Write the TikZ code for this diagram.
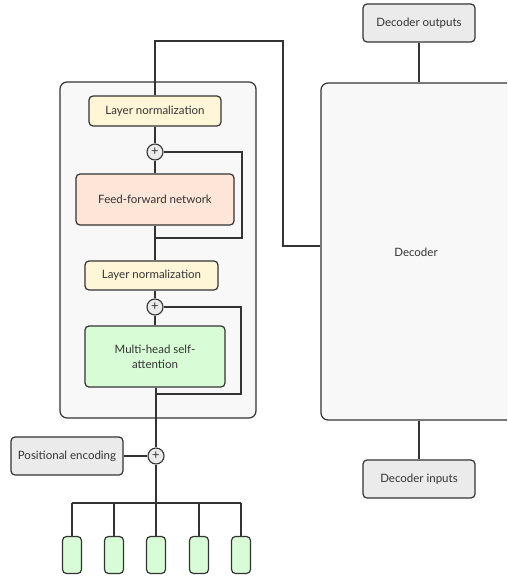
\documentclass[tikz,border=0pt]{standalone}
\usepackage{fontspec}
\setmainfont{Lato}
\usetikzlibrary{positioning}
\definecolor{ln}{HTML}{FFF6D8}
\definecolor{ff}{HTML}{FDE6D8}
\definecolor{gr}{HTML}{D8FCD6}
\definecolor{bg}{HTML}{F8F8F8}
\definecolor{gy}{HTML}{EBEBEB}
\definecolor{ink}{HTML}{333333}
\tikzset{
  box/.style={draw=ink, line width=1.2pt, rounded corners=4pt, inner sep=0pt, align=center, text=ink, font=\fontsize{11.5}{15}\selectfont},
  cont/.style={draw=ink, line width=1.2pt, rounded corners=7pt, fill=bg, inner sep=0pt},
  plus/.style={draw=ink, line width=1.1pt, circle, fill=gy, minimum size=16pt, inner sep=0pt, font=\fontsize{13}{13}\selectfont, text=ink},
  wire/.style={draw=ink, line width=1.2pt},
}
\begin{document}
\begin{tikzpicture}[x=1pt,y=-1pt]
\useasboundingbox (0,0) rectangle (507,576);
\begin{scope}
\clip (0,0) rectangle (507,576);
% containers
\node[cont, minimum width=196pt, minimum height=336pt] (enc) at (158,250) {};
\node[cont, minimum width=194pt, minimum height=337pt] (dec) at (418,251.5) {};
\node[text=ink, font=\fontsize{11.5}{14}\selectfont] (declab) at (416,252) {Decoder};
% encoder internals
\node[box, fill=ln, minimum width=132pt, minimum height=30pt] (ln1) at (155,111) {Layer normalization};
\node[plus] (p1) at (155,152) {+};
\node[box, fill=ff, minimum width=158pt, minimum height=51pt] (ffn) at (155,199.5) {Feed-forward network};
\node[box, fill=ln, minimum width=133pt, minimum height=29pt] (ln2) at (151.5,275.5) {Layer normalization};
\node[plus] (p2) at (155,307) {+};
\node[box, fill=gr, minimum width=140pt, minimum height=61pt] (mhsa) at (155,356.5) {Multi-head self-\\attention};
% inputs
\node[plus] (p3) at (156,456) {+};
\node[box, fill=gy, minimum width=112pt, minimum height=38pt] (pe) at (67,456) {Positional encoding};
\foreach \i/\x in {1/72,2/114,3/156,4/199,5/241}{
  \node[box, fill=gr, minimum width=19pt, minimum height=37pt] (t\i) at (\x,555) {};
}
% decoder io
\node[box, fill=gy, minimum width=112pt, minimum height=38pt] (dout) at (419,23) {Decoder outputs};
\node[box, fill=gy, minimum width=112pt, minimum height=38pt] (din) at (419,479) {Decoder inputs};
% coordinates
\coordinate (k1) at (283,41);
\coordinate (k2) at (283,246);
\coordinate (r1) at (242,238);
\coordinate (r2) at (241,394);
\coordinate (r2s) at (156,394);
\coordinate (bus) at (156,503);
% connectors
\draw[wire] (ln1.north) |- (k1) -- (k2) -- (dec.west |- k2);
\draw[wire] (ln1.south) -- (p1.north);
\draw[wire] (p1.south) -- (ffn.north);
\draw[wire] (ffn.south) -- (ffn.south |- ln2.north);
\draw[wire] (ffn.south |- r1) -- (r1) |- (p1.east);
\draw[wire] (ln2.south -| p2) -- (p2.north);
\draw[wire] (p2.south) -- (p2.south |- mhsa.north);
\draw[wire] (mhsa.south -| p3) -- (p3.north);
\draw[wire] (r2s) -- (r2) |- (p2.east);
\draw[wire] (pe.east) -- (p3.west);
\draw[wire] (p3.south) -- (bus);
\draw[wire] (t1.north |- bus) -- (t5.north |- bus);
\foreach \i in {1,...,5}{ \draw[wire] (t\i.north |- bus) -- (t\i.north); }
\draw[wire] (dout.south) -- (dout.south |- dec.north);
\draw[wire] (dec.south -| din) -- (din.north);
\end{scope}
\end{tikzpicture}
\end{document}
